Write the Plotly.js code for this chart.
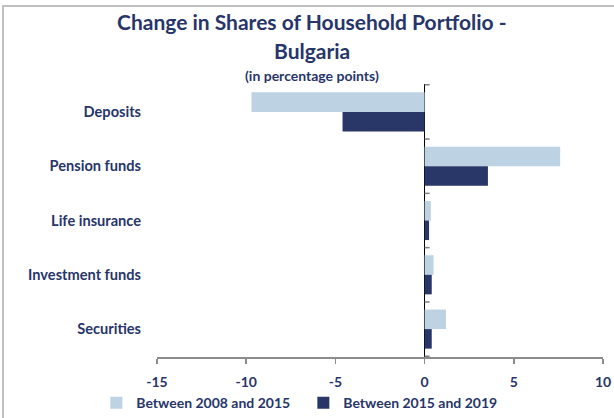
<!DOCTYPE html>
<html>
<head>
<meta charset="utf-8">
<script src="https://cdn.plot.ly/plotly-3.0.1.min.js"></script>
<style>
  html, body { margin: 0; padding: 0; background: #fff; }
  #wrap { position: relative; width: 614px; height: 418px; overflow: hidden; }
  #chart { position: absolute; left: 0; top: 0; width: 614px; height: 418px; }
  #frame { position: absolute; left: 2px; top: 5px; width: 700px; height: 600px;
           border-left: 2px solid #c0c0c0; border-top: 2px solid #c0c0c0; pointer-events: none; }
</style>
</head>
<body>
<div id="wrap">
  <div id="chart"></div>
  <div id="frame"></div>
</div>
<script>
const categories = ["Deposits", "Pension funds", "Life insurance", "Investment funds", "Securities"];
const seriesNames = ["Between 2008 and 2015", "Between 2015 and 2019"];
const values2008_2015 = [-9.7, 7.6, 0.35, 0.5, 1.2];
const values2015_2019 = [-4.6, 3.55, 0.25, 0.4, 0.4];
const xTickVals = [-15, -10, -5, 0, 5, 10];

const navy = "#27356a";
const lightBlue = "#bdd2e3";
const darkBlue = "#283767";
const font = "Lato, 'Open Sans', sans-serif";

const traces = [
  { type: "bar", orientation: "h", y: categories, x: values2008_2015, name: seriesNames[0],
    marker: { color: lightBlue }, hoverinfo: "none" },
  { type: "bar", orientation: "h", y: categories, x: values2015_2019, name: seriesNames[1],
    marker: { color: darkBlue }, hoverinfo: "none" }
];

// small tick marks on the zero line at category boundaries
const shapes = [];
for (let i = 0; i <= categories.length; i++) {
  shapes.push({ type: "line", xref: "x", yref: "y", x0: 0, x1: 0.28, y0: i - 0.5, y1: i - 0.5,
    line: { color: "#7f7f7f", width: 1.5 } });
}

const layout = {
  width: 614, height: 418,
  margin: { l: 157, r: 11, t: 84, b: 61, autoexpand: false },
  paper_bgcolor: "#ffffff", plot_bgcolor: "#ffffff",
  font: { family: font, color: navy, size: 14 },
  showlegend: true,
  barmode: "group",
  bargap: 0.28,
  bargroupgap: 0,
  xaxis: {
    range: [-15, 10], tickvals: xTickVals, ticktext: xTickVals.map(String),
    showgrid: false, zeroline: true, zerolinecolor: "#000000", zerolinewidth: 1.5,
    showline: true, linecolor: "#8c8c8c", linewidth: 1.5,
    ticks: "outside", ticklen: 5, tickcolor: "#8c8c8c", tickwidth: 1.5,
    tickfont: { family: font, size: 14, color: navy, weight: "bold" },
    ticklabelstandoff: 7, fixedrange: true
  },
  yaxis: {
    type: "category", autorange: "reversed",
    showgrid: false, zeroline: false, showline: false, ticks: "",
    tickfont: { family: font, size: 14.6, color: navy, weight: "bold" },
    ticklabelstandoff: 15, fixedrange: true
  },
  legend: {
    orientation: "h", x: -0.136, xanchor: "left", y: -0.11, yanchor: "top",
    font: { family: font, size: 14, color: navy, weight: "bold" },
    traceorder: "normal", itemwidth: 30, entrywidth: 162, entrywidthmode: "pixels",
    bgcolor: "rgba(0,0,0,0)"
  },
  annotations: [
    { text: "<b>Change in Shares of Household Portfolio -</b>", xref: "paper", yref: "paper",
      x: 0.3475, xanchor: "center", y: 1, yshift: 63, yanchor: "middle", showarrow: false,
      font: { family: font, size: 21, color: navy } },
    { text: "<b>Bulgaria</b>", xref: "paper", yref: "paper",
      x: 0.3475, xanchor: "center", y: 1, yshift: 34, yanchor: "middle", showarrow: false,
      font: { family: font, size: 21, color: navy } },
    { text: "<b>(in percentage points)</b>", xref: "paper", yref: "paper",
      x: 0.3475, xanchor: "center", y: 1, yshift: 9, yanchor: "middle", showarrow: false,
      font: { family: font, size: 14, color: navy } }
  ],
  shapes: shapes
};

Plotly.newPlot("chart", traces, layout, { displayModeBar: false, staticPlot: true });
</script>
</body>
</html>
